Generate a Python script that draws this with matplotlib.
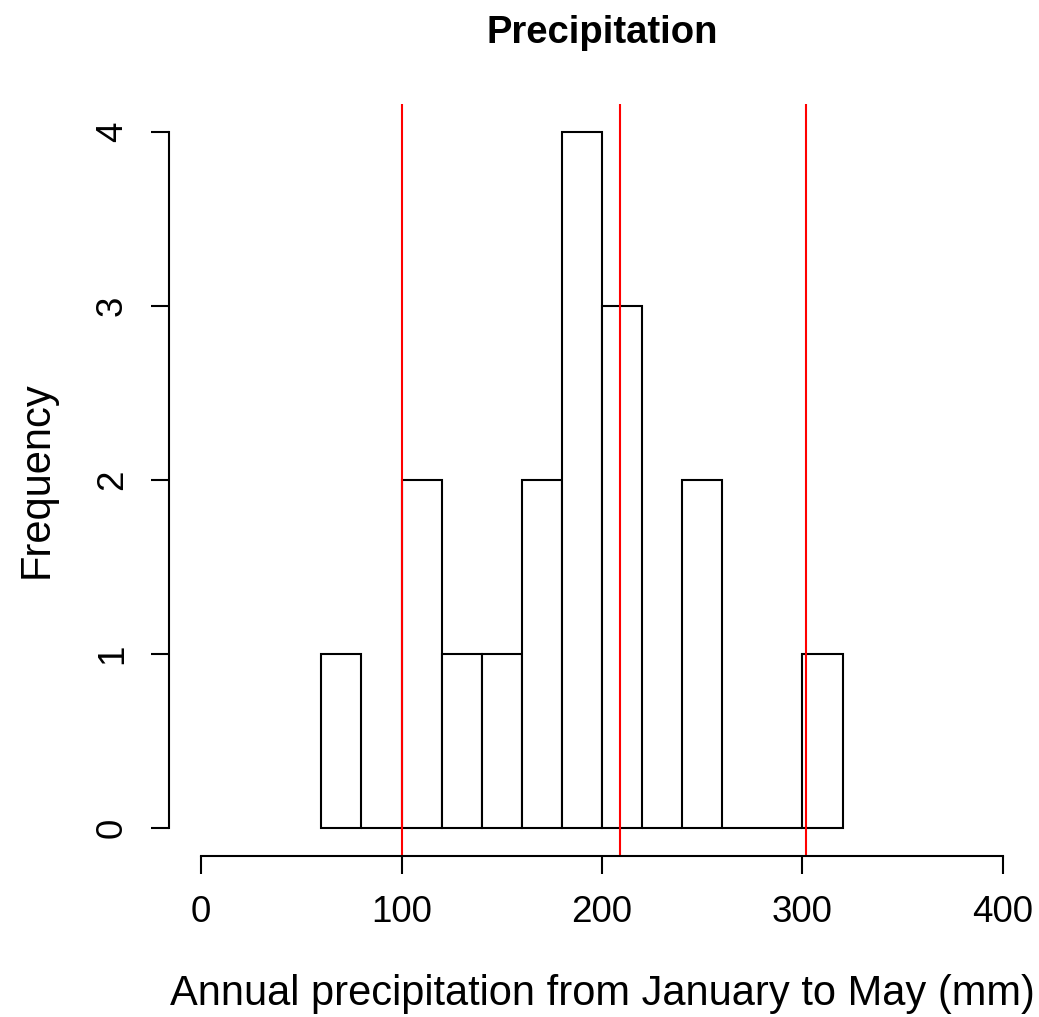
import numpy as np
import matplotlib
matplotlib.use("Agg")
import matplotlib.pyplot as plt

plt.rcParams['font.family'] = ['Liberation Sans', 'DejaVu Sans']

# histogram of Jan-May precipitation (mm), 20 mm bins
bin_left = [60, 80, 100, 120, 140, 160, 180, 200, 220, 240, 260, 280, 300]
counts = [1, 0, 2, 1, 1, 2, 4, 3, 0, 2, 0, 0, 1]
bin_width = 20
ref_lines = [100, 209, 302]
xticks = [0, 100, 200, 300, 400]
yticks = [0, 1, 2, 3, 4]

W, H = 1039, 1017
fig = plt.figure(figsize=(W / 100, H / 100), dpi=100)
ax = fig.add_axes([169 / W, 1 - 856 / H, (1035 - 169) / W, (856 - 104) / H])

ax.bar(bin_left, counts, width=bin_width, align='edge',
       facecolor='white', edgecolor='black', linewidth=1.5)
for v in ref_lines:
    ax.axvline(v, color='red', lw=1.5)

ax.set_xlim(-16, 416)
ax.set_ylim(-0.16, 4.16)

for s in ['top', 'right']:
    ax.spines[s].set_visible(False)
ax.spines['left'].set_bounds(0, 4)
ax.spines['bottom'].set_bounds(0, 400)
for s in ['left', 'bottom']:
    ax.spines[s].set_linewidth(1.5)

ax.set_xticks(xticks)
ax.set_yticks(yticks)
ax.tick_params(axis='both', direction='out', length=13, width=1.5,
               labelsize=26.5, pad=15)
plt.setp(ax.get_yticklabels(), rotation=90, va='center')

ax.set_title('Precipitation', fontsize=27.5, fontweight='bold', pad=44)
ax.set_xlabel('Annual precipitation from January to May (mm)', fontsize=30, labelpad=32)
ax.set_ylabel('Frequency', fontsize=30, labelpad=28)

fig.savefig('out.png', dpi=100)
